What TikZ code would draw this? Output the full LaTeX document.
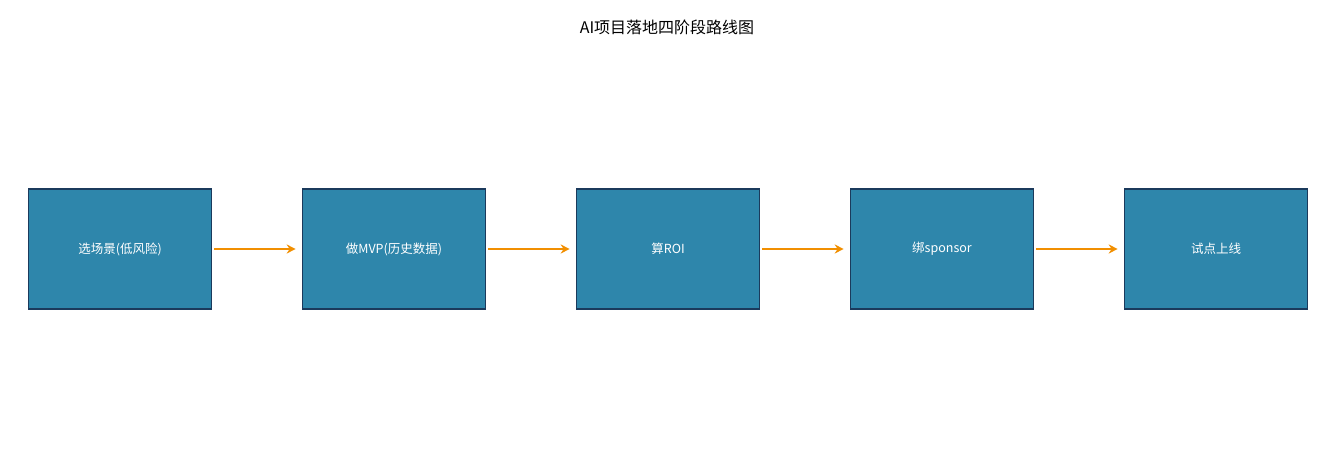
\documentclass[tikz,border=0pt]{standalone}
\usepackage{fontspec}
\setmainfont{DejaVu Sans Mono}
\newfontfamily\cjk{Noto Sans CJK SC}
\usetikzlibrary{arrows.meta}
\definecolor{boxfill}{HTML}{2E86AB}
\definecolor{boxline}{HTML}{1B3A5C}
\definecolor{arr}{HTML}{F18F01}
\begin{document}
\begin{tikzpicture}[x=1pt,y=-1pt,
 box/.style={draw=boxline,line width=1.6pt,fill=boxfill,minimum width=183pt,minimum height=120pt,inner sep=0pt,text=white,font=\cjk\fontsize{12.5}{14}\selectfont},
 con/.style={draw=arr,line width=2.6pt,-{Stealth[length=9pt,width=9pt]}}]
\useasboundingbox (0,0) rectangle (1335,465);
\node[font=\cjk\fontsize{16}{18}\selectfont] (t) at (667,27) {AI项目落地四阶段路线图};
\node[box] (a) at (120,249) {选场景(低风险)};
\node[box] (b) at (394,249) {做MVP(历史数据)};
\node[box] (c) at (668,249) {算ROI};
\node[box] (d) at (942,249) {绑sponsor};
\node[box] (e) at (1216,249) {试点上线};
\draw[con] (a.east) ++(2,0) -- ([xshift=-6pt]b.west);
\draw[con] (b.east) ++(2,0) -- ([xshift=-6pt]c.west);
\draw[con] (c.east) ++(2,0) -- ([xshift=-6pt]d.west);
\draw[con] (d.east) ++(2,0) -- ([xshift=-6pt]e.west);
\end{tikzpicture}
\end{document}
